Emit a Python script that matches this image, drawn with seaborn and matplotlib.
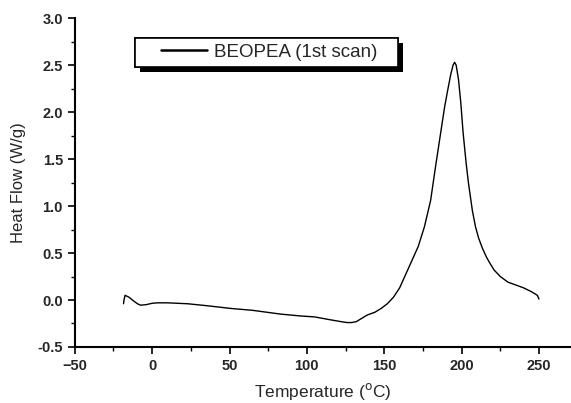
import numpy as np
import pandas as pd
import matplotlib.pyplot as plt
import seaborn as sns
from matplotlib.ticker import MultipleLocator
from matplotlib.patches import Rectangle
from matplotlib.lines import Line2D
from matplotlib.legend_handler import HandlerLine2D

# DSC trace
temperature = [-18.5, -18.2, -17.5, -15, -12, -9.5, -7.5, -4, 0, 3.5, 10, 23, 35, 51,
               65, 83, 96, 105, 115, 122, 126, 129, 132, 135, 139, 144, 148, 152,
               156, 160, 163, 166, 169, 172, 176, 180, 183, 186.5, 189, 191, 193,
               194.5, 195.5, 196.5, 198, 199.5, 201, 203, 204.5, 207, 209, 211,
               213.5, 216, 218, 221, 225, 230, 235, 240, 245, 249, 250]
heat_flow = [-0.04, 0.0, 0.05, 0.03, -0.01, -0.04, -0.055, -0.05, -0.035, -0.03, -0.03,
             -0.04, -0.06, -0.09, -0.11, -0.15, -0.17, -0.18, -0.21, -0.23, -0.24,
             -0.24, -0.23, -0.2, -0.16, -0.13, -0.09, -0.04, 0.03, 0.13, 0.24,
             0.35, 0.46, 0.57, 0.78, 1.06, 1.4, 1.78, 2.05, 2.23, 2.4, 2.5, 2.53,
             2.5, 2.35, 2.1, 1.78, 1.45, 1.24, 0.95, 0.78, 0.66, 0.55, 0.46, 0.4,
             0.32, 0.25, 0.19, 0.16, 0.13, 0.09, 0.05, 0.01]
series_label = "BEOPEA (1st scan)"

x_ticks = [-50, 0, 50, 100, 150, 200, 250]
y_ticks = [-0.5, 0.0, 0.5, 1.0, 1.5, 2.0, 2.5, 3.0]


class IndentedLine(HandlerLine2D):
    # legend line drawn only in the right part of the handle box
    def get_xdata(self, legend, xdescent, ydescent, width, height, fontsize):
        xd = np.array([-xdescent + 0.31 * width, -xdescent + width])
        return xd, xd


df = pd.DataFrame({"Temperature": temperature, "Heat Flow": heat_flow, "series": series_label})

sns.set_style("ticks")
plt.rcParams["font.family"] = ["Liberation Sans", "DejaVu Sans"]

fig = plt.figure(figsize=(5.71, 4.03), dpi=100)
ax = fig.add_axes([0.131, 0.139, 0.867, 0.816])

sns.lineplot(data=df, x="Temperature", y="Heat Flow", hue="series", palette=["black"],
             linewidth=1.0, sort=False, estimator=None, ax=ax, legend=False)

ax.set_xlim(-50, 270)
ax.set_ylim(-0.5, 3.0)
ax.set_xticks(x_ticks)
ax.set_yticks(y_ticks)
ax.set_yticklabels([f"{v:.1f}" for v in y_ticks])
ax.xaxis.set_minor_locator(MultipleLocator(25))
ax.yaxis.set_minor_locator(MultipleLocator(0.25))
ax.tick_params(which="major", length=5, width=1.2, labelsize=10.5, color="black")
ax.tick_params(which="minor", length=3, width=1.0, color="black")
for lbl in ax.get_xticklabels() + ax.get_yticklabels():
    lbl.set_fontweight("bold")

sns.despine(ax=ax)
for side in ["left", "bottom"]:
    ax.spines[side].set_linewidth(1.5)
    ax.spines[side].set_color("black")

ax.set_xlabel("Temperature ($^{\\mathrm{o}}$C)", fontsize=12.5, labelpad=6)
ax.set_ylabel("Heat Flow (W/g)", fontsize=12, labelpad=8)

handle = Line2D([], [], color="black", linewidth=1.8)
leg = ax.legend([handle], [series_label], loc="upper left",
                bbox_to_anchor=(0.121, 0.939 - 0.09, 0.532, 0.09), mode="expand",
                borderaxespad=0, fancybox=False, shadow=False,
                fontsize=13.5, handlelength=3.57, handletextpad=0.37, borderpad=0.3,
                framealpha=1, handler_map={Line2D: IndentedLine()})
leg.get_frame().set_edgecolor("black")
leg.get_frame().set_linewidth(1.2)

# solid black drop shadow, offset down-right
fig.canvas.draw()
bb = leg.get_window_extent()
fw, fh = fig.bbox.width, fig.bbox.height
shadow = Rectangle(((bb.x0 + 5) / fw, (bb.y0 - 5) / fh), bb.width / fw, bb.height / fh,
                   transform=fig.transFigure, facecolor="black", edgecolor="none", zorder=4)
fig.add_artist(shadow)
leg.set_zorder(6)
fig.add_artist(leg)

fig.savefig("out.png", dpi=100)
